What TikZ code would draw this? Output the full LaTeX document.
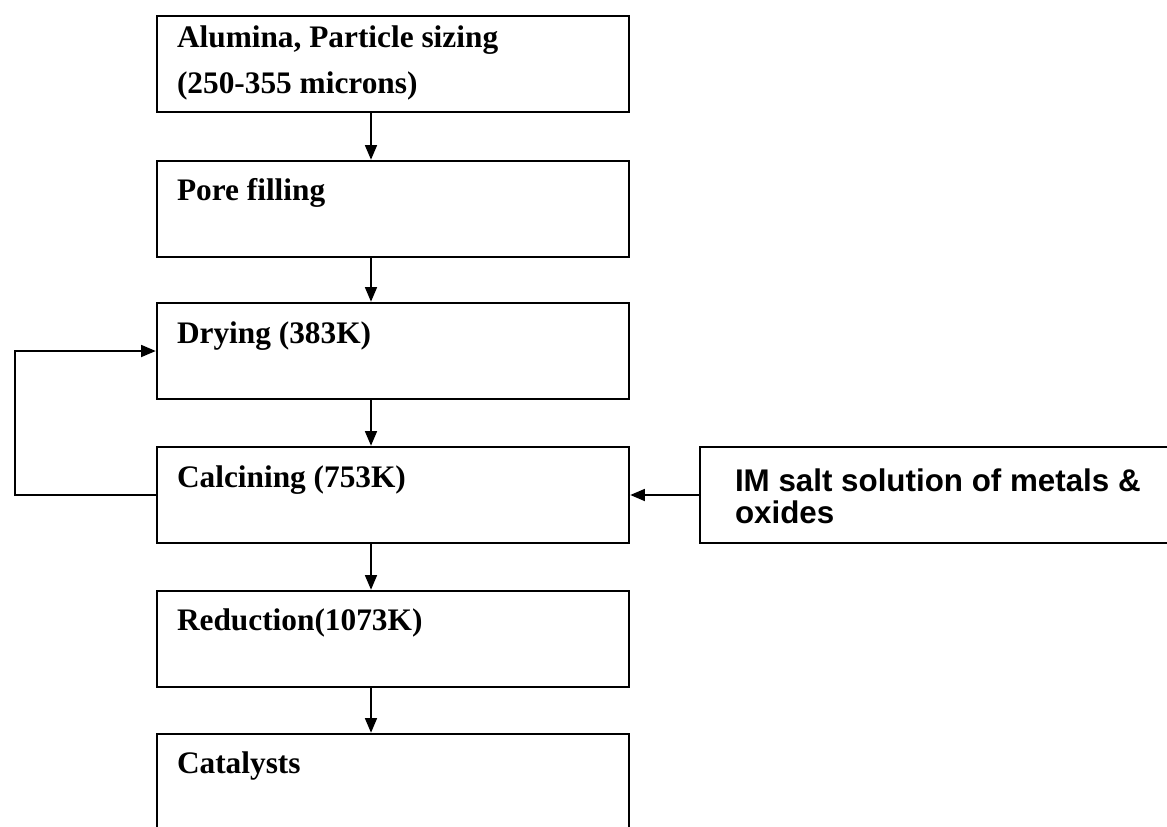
\documentclass[tikz,border=0pt]{standalone}
\usepackage{fontspec}
\setmainfont{Liberation Serif}
\setsansfont{Liberation Sans}
\usetikzlibrary{arrows.meta, positioning}

\tikzset{
    stepbox/.style={draw, line width=1.9pt, minimum width=354pt, minimum height=72pt, inner sep=0pt},
    steptext/.style={anchor=base west, inner sep=0pt, align=left, font=\fontsize{23.5}{35}\selectfont\bfseries},
    feedtext/.style={anchor=base west, inner sep=0pt, align=left, font=\sffamily\fontsize{23.5}{24}\selectfont\bfseries},
    flow/.style={->, line width=1.3pt}
}

\begin{document}
\begin{tikzpicture}[x=0.75pt, y=-0.75pt, >={Triangle[length=11pt, width=9pt]}]
    \clip (0,0) rectangle (1167,826);
    % Các bước chính
    \node[stepbox] (alumina) at (393,64) {};
    \node[stepbox] (pore)    at (393,209) {};
    \node[stepbox] (dry)     at (393,351) {};
    \node[stepbox] (calc)    at (393,495) {};
    \node[stepbox] (red)     at (393,639) {};
    \node[stepbox] (cat)     at (393,782) {};
    % Dung dịch muối
    \node[stepbox] (salt)    at (936,495) {};

    % Chữ trong các hộp
    \node[steptext] (aluminat) at ([shift={(21,79)}]alumina.north west) {Alumina, Particle sizing\\(250-355 microns)};
    \node[steptext] (poret) at ([shift={(21,41)}]pore.north west) {Pore filling};
    \node[steptext] (dryt)  at ([shift={(21,42)}]dry.north west) {Drying (383K)};
    \node[steptext] (calct) at ([shift={(21,42)}]calc.north west) {Calcining (753K)};
    \node[steptext] (redt)  at ([shift={(21,41)}]red.north west) {Reduction(1073K)};
    \node[steptext] (catt)  at ([shift={(21,41)}]cat.north west) {Catalysts};
    \node[feedtext] (saltt) at ([shift={(36,78)}]salt.north west) {IM salt solution of metals \&\\oxides};

    % Mũi tên
    \draw[flow] ([xshift=-16.5pt]alumina.south) -- ([xshift=-16.5pt]pore.north);
    \draw[flow] ([xshift=-16.5pt]pore.south) -- ([xshift=-16.5pt]dry.north);
    \draw[flow] ([xshift=-16.5pt]dry.south) -- ([xshift=-16.5pt]calc.north);
    \draw[flow] ([xshift=-16.5pt]calc.south) -- ([xshift=-16.5pt]red.north);
    \draw[flow] ([xshift=-16.5pt]red.south) -- ([xshift=-16.5pt]cat.north);
    \draw[flow] (salt.west) -- (calc.east);
    % Vòng lặp
    \coordinate (loop) at (15,0);
    \draw[flow] (calc.west) -- (calc.west -| loop) -- (dry.west -| loop) -- (dry.west);
\end{tikzpicture}
\end{document}
